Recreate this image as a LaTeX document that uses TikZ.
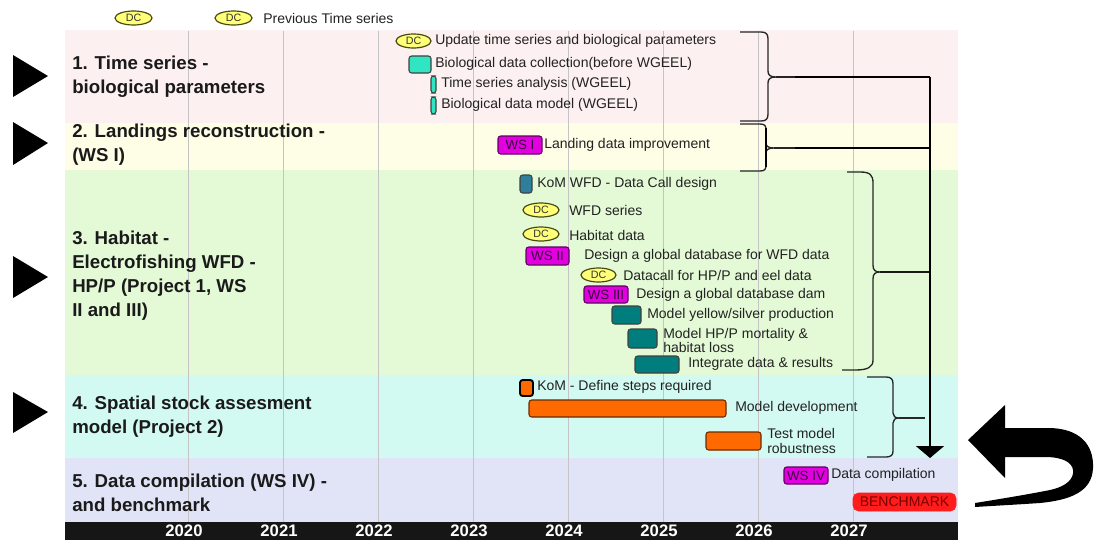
\documentclass[tikz,border=0pt]{standalone}
\usepackage{fontspec}
\setmainfont{Liberation Sans}
\usetikzlibrary{shapes.geometric,arrows.meta}
\definecolor{bandA}{HTML}{FDF0F0}
\definecolor{bandB}{HTML}{FEFEE6}
\definecolor{bandC}{HTML}{E4FAD6}
\definecolor{bandD}{HTML}{D2FAF2}
\definecolor{bandE}{HTML}{E0E4F6}
\definecolor{gridc}{HTML}{C4C4C4}
\definecolor{txt}{HTML}{222222}
\definecolor{lbl}{HTML}{1A1A1A}
\definecolor{dcfill}{HTML}{FFFF78}
\definecolor{dcdraw}{HTML}{4A4A10}
\definecolor{wsfill}{HTML}{E000E0}
\definecolor{wsdraw}{HTML}{600060}
\definecolor{wstext}{HTML}{3A003A}
\definecolor{aqua}{HTML}{30E6C2}
\definecolor{tealc}{HTML}{007D7D}
\definecolor{steel}{HTML}{2F7E9C}
\definecolor{orangec}{HTML}{FF6A00}
\definecolor{oranged}{HTML}{6A2A00}
\definecolor{benchc}{HTML}{FF1C1C}
\definecolor{bencht}{HTML}{7A0000}
\definecolor{axisc}{HTML}{161616}
\newcommand\gbox[7]{\node[#6, minimum width={(#4-#2)*0.75pt}, minimum height={(#5-#3)*0.75pt}] (#1) at ({(#2+#4)/2},{(#3+#5)/2}) {#7};}
\begin{document}
\begin{tikzpicture}[x=0.75pt,y=-0.75pt,
  itemtext/.style={anchor=west, inner sep=0pt, font=\fontsize{10.5}{12}\selectfont, text=txt},
  sectlabel/.style={anchor=west, inner sep=0pt, align=left, font=\bfseries\fontsize{14}{18}\selectfont, text=lbl},
  yearlabel/.style={inner sep=0pt, font=\bfseries\fontsize{12.5}{14}\selectfont, text=white},
  anybox/.style={draw, inner sep=0pt, outer sep=0pt, rounded corners=2pt, line width=0.8pt},
  dcbox/.style={ellipse, draw=dcdraw, fill=dcfill, inner sep=0pt, outer sep=0pt, line width=0.9pt, font=\fontsize{8}{9}\selectfont, text=black!80},
  wsbox/.style={anybox, draw=wsdraw, fill=wsfill, font=\fontsize{10}{11}\selectfont, text=wstext},
  aquabox/.style={anybox, draw=black!75, fill=aqua},
  tealbox/.style={anybox, draw=black!75, fill=tealc},
  steelbox/.style={anybox, draw=black!75, fill=steel},
  orbox/.style={anybox, draw=oranged, fill=orangec},
  benchbox/.style={draw=benchc, fill=benchc, inner sep=0pt, rounded corners=4pt, font=\fontsize{10.5}{12}\selectfont, text=bencht},
  brc/.style={draw=black!85, line width=1pt},
  thinl/.style={draw=black!85, line width=0.9pt},
  thickl/.style={draw=black, line width=2.2pt},
  midl/.style={draw=black!90, line width=1.3pt},
  vline/.style={draw=black, line width=1.5pt, -{Triangle[width=21pt,length=9pt]}},
  gridl/.style={draw=gridc, line width=0.75pt}
]
\useasboundingbox (0,0) rectangle (1094,540);
% bands
\fill[bandA] (65,30) rectangle (958,123);
\fill[bandB] (65,123) rectangle (958,170);
\fill[bandC] (65,170) rectangle (958,375);
\fill[bandD] (65,375) rectangle (958,458);
\fill[bandE] (65,458) rectangle (958,522);
% grid
\foreach \k in {0,...,7} \draw[gridl] ({188+95*\k},31) -- ({188+95*\k},522);
% axis
\fill[axisc] (65,522) rectangle (958,540);
\foreach \k/\yr in {0/2020,1/2021,2/2022,3/2023,4/2024,5/2025,6/2026,7/2027}
  \node[yearlabel] (yr\k) at ({184+95*\k},531) {\yr};
% left triangles
\fill[black] (13,55) -- (48,76) -- (13,97) -- cycle;
\fill[black] (13,122) -- (48,143) -- (13,165) -- cycle;
\fill[black] (13,256) -- (48,277) -- (13,298) -- cycle;
\fill[black] (13,392) -- (48,412) -- (13,433) -- cycle;
% section labels
\node[sectlabel] (s1) at (72,77) {1. Time series -\\biological parameters};
\node[sectlabel] (s2) at (72,145) {2. Landings reconstruction -\\(WS I)};
\node[sectlabel] (s3) at (72,276) {3. Habitat -\\Electrofishing WFD -\\HP/P (Project 1, WS\\II and III)};
\node[sectlabel] (s4) at (72,416.5) {4. Spatial stock assesment\\model (Project 2)};
\node[sectlabel] (s5) at (72,492.5) {5. Data compilation (WS IV) -\\and benchmark};
% legend
\gbox{lg1}{115}{11}{152}{25}{dcbox}{DC}
\gbox{lg2}{215}{11}{252}{25}{dcbox}{DC}
\node[itemtext] (lgt) at (263,18) {Previous Time series};
% band 1
\gbox{e1}{396}{34}{431}{48}{dcbox}{DC}
\node[itemtext] (t1a) at (435,41) {Update time series and biological parameters};
\gbox{b1}{409}{56}{431}{73}{aquabox}{}
\node[itemtext] (t1b) at (435,64) {Biological data collection(before WGEEL)};
\gbox{b2}{431}{76}{436}{93}{aquabox}{}
\node[itemtext] (t1c) at (441,84) {Time series analysis (WGEEL)};
\gbox{b3}{431}{97}{436}{114}{aquabox}{}
\node[itemtext] (t1d) at (441,105) {Biological data model (WGEEL)};
% band 2
\gbox{w1}{498}{136}{542}{154}{wsbox}{WS I}
\node[itemtext] (t2a) at (544,145) {Landing data improvement};
% band 3
\gbox{k1}{520}{175}{532}{193}{steelbox}{}
\node[itemtext] (t3a) at (537,184) {KoM WFD - Data Call design};
\gbox{e2}{523}{203}{559}{217}{dcbox}{DC}
\node[itemtext] (t3b) at (569,210) {WFD series};
\gbox{e3}{523}{227}{559}{241}{dcbox}{DC}
\node[itemtext] (t3c) at (569,235) {Habitat data};
\gbox{w2}{526}{247}{569}{265}{wsbox}{WS II}
\node[itemtext] (t3d) at (584,256) {Design a global database for WFD data};
\gbox{e4}{581}{268}{616}{282}{dcbox}{DC}
\node[itemtext] (t3e) at (623,275) {Datacall for HP/P and eel data};
\gbox{w3}{584}{286}{628}{303}{wsbox}{WS III}
\node[itemtext] (t3f) at (636,295) {Design a global database dam};
\gbox{m1}{612}{306}{641}{324}{tealbox}{}
\node[itemtext] (t3g) at (647,315) {Model yellow/silver production};
\gbox{m2}{628}{329}{657}{348}{tealbox}{}
\node[itemtext, align=left, font=\fontsize{10.5}{9.8}\selectfont] (t3h) at (663,340.5) {Model HP/P mortality \&\\habitat loss};
\gbox{m3}{635}{356}{679}{373}{tealbox}{}
\node[itemtext] (t3i) at (688,364) {Integrate data \& results};
% band 4
\gbox{o1}{520}{380}{533}{396}{orbox, draw=black, line width=1.4pt}{}
\node[itemtext] (t4a) at (537,387) {KoM - Define steps required};
\gbox{o2}{529}{400}{726}{417}{orbox}{}
\node[itemtext] (t4b) at (735,408) {Model development};
\gbox{o3}{706}{432}{761}{450}{orbox}{}
\node[itemtext, align=left, font=\fontsize{10.5}{11}\selectfont] (t4c) at (767,441) {Test model\\robustness};
% band 5
\gbox{w4}{784}{467}{828}{484}{wsbox}{WS IV}
\node[itemtext] (t5a) at (831,475) {Data compilation};
\gbox{bm}{853}{493}{956}{511}{benchbox}{BENCHMARK}
% braces
\draw[brc] (740,32) -- (761,32) .. controls (766,32) and (768,34) .. (768,39) -- (768,71) .. controls (768,75) and (770,77) .. (776,77) .. controls (770,77) and (768,79) .. (768,83) -- (768,114) .. controls (768,119) and (766,121) .. (761,121) -- (740,121);
\coordinate (p1) at (776,77);
\draw[brc] (740,124) -- (760,124) .. controls (765,124) and (766,126) .. (766,130) -- (766,143) .. controls (766,146) and (768,148) .. (774,148) .. controls (768,148) and (766,150) .. (766,153) -- (766,165) .. controls (766,169) and (765,171) .. (760,171) -- (740,171);
\draw[line width=2.2pt] (766,128) -- (766,167);
\coordinate (p2) at (774,148);
\draw[brc] (847,172) -- (860,172) .. controls (870,172) and (873,175) .. (873,183) -- (873,265) .. controls (873,270) and (875,272) .. (880,272) .. controls (875,272) and (873,274) .. (873,279) -- (873,360) .. controls (873,367) and (868,370) .. (855,370) -- (842,370);
\coordinate (p3) at (880,272);
\draw[brc] (867,377) -- (886,377) .. controls (891,377) and (893,379) .. (893,384) -- (893,413) .. controls (893,416) and (895,418) .. (899,418) .. controls (895,418) and (893,420) .. (893,423) -- (893,451) .. controls (893,455) and (891,457) .. (886,457) -- (867,457);
\coordinate (p4) at (899,418);
% connectors
\coordinate (k1) at (795,77);
\coordinate (k2) at (795,148);
\coordinate (j1) at (930,77);
\coordinate (j2) at (930,148);
\coordinate (j3) at (930,272);
\coordinate (j4) at (925,418);
\coordinate (aend) at (930,458);
\draw[thinl] (p1) -- (k1);
\draw[thickl] (k1) -- (j1);
\draw[thinl] (p2) -- (k2);
\draw[thickl] (k2) -- (j2);
\draw[midl] (p3) -- (j3);
\draw[thinl] (p4) -- (j4);
\draw[vline] (j1) -- (aend);
% U-turn arrow
\fill[black] (968,440) -- (1005,405) -- (1005,428) -- (1048,428) .. controls (1080,428) and (1094,445) .. (1093,468) .. controls (1092,492) and (1070,500) .. (1040,503) .. controls (1010,505) and (990,506) .. (975,507) -- (975,503) .. controls (1000,499) and (1030,494) .. (1050,490) .. controls (1068,486) and (1074,478) .. (1073,470) .. controls (1072,462) and (1062,457) .. (1045,457) -- (1005,457) -- (1005,478) -- cycle;
\end{tikzpicture}
\end{document}
